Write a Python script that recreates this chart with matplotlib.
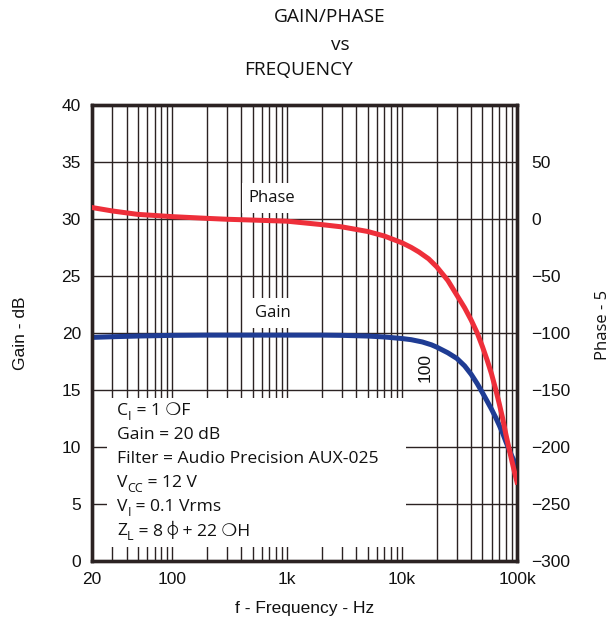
import matplotlib
matplotlib.use("Agg")
import matplotlib.pyplot as plt
from matplotlib.patches import Rectangle
import numpy as np

# ---- data ----
gain_freq = [20, 30, 50, 100, 200, 300, 500, 1000, 2000, 3000, 5000, 7000, 10000,
             12000, 15000, 18000, 20000, 25000, 30000, 35000, 40000, 45000, 50000,
             55000, 60000, 65000, 70000, 75000, 80000, 85000, 90000, 95000, 100000]
gain_db = [19.6, 19.66, 19.72, 19.78, 19.8, 19.8, 19.8, 19.8, 19.8, 19.78, 19.72, 19.64, 19.5,
           19.4, 19.2, 18.95, 18.75, 18.25, 17.75, 17.1, 16.35, 15.55, 14.75,
           14.0, 13.3, 12.6, 11.9, 11.2, 10.45, 9.8, 9.2, 8.7, 8.2]
phase_freq = [20, 30, 50, 100, 200, 300, 500, 1000, 2000, 3000, 5000, 7000, 10000,
              12000, 14000, 17000, 20000, 25000, 30000, 35000, 40000, 45000, 50000,
              55000, 60000, 65000, 70000, 75000, 80000, 85000, 90000, 95000, 100000]
phase_deg = [10, 7, 4, 2, 0.5, -0.3, -1, -2, -5, -7, -11, -15, -21,
             -25, -29, -35, -42, -54, -67, -78, -89, -100, -112,
             -124, -136, -149, -162, -175, -189, -201, -212, -222, -231]

x_ticks = [20, 100, 1000, 10000, 100000]
x_ticklabels = ["20", "100", "1k", "10k", "100k"]
gain_ticks = [0, 5, 10, 15, 20, 25, 30, 35, 40]
phase_ticks = [50, 0, -50, -100, -150, -200, -250, -300]
# each legend line: list of (text, is_subscript)
legend_lines = [[("C", False), ("I", True), (" = 1 ❍F", False)],
                [("Gain = 20 dB", False)],
                [("Filter = Audio Precision AUX-025", False)],
                [("V", False), ("CC", True), (" = 12 V", False)],
                [("V", False), ("I", True), (" = 0.1 Vrms", False)],
                [("Z", False), ("L", True), (" = 8 ⌽ + 22 ❍H", False)]]

W, H = 611, 624
fig = plt.figure(figsize=(W / 100, H / 100), dpi=100)
ax = fig.add_axes([92 / W, 1 - 560.7 / H, 425 / W, 455.7 / H])
ax2 = ax.twinx()

dark = '#2b2222'
txtc = '#111111'
tick_font = 'Liberation Sans'
ui_font = ['Open Sans', 'DejaVu Sans', 'DejaVu Sans Mono', 'Noto Sans CJK JP']

ax.set_xscale('log')
ax.set_xlim(20, 100000)
ax.set_ylim(0, 40)
ax2.set_ylim(-300, 100)

# grid
for dec in [10, 100, 1000, 10000]:
    for m in range(1, 10):
        f = dec * m
        if 20 < f < 100000:
            ax.axvline(f, color=dark, lw=1.0, zorder=1)
for g in gain_ticks[1:-1]:
    ax.axhline(g, color=dark, lw=1.0, zorder=1)

ax.set_xticks(x_ticks)
ax.set_xticklabels(x_ticklabels)
ax.xaxis.set_minor_locator(matplotlib.ticker.NullLocator())
ax.set_yticks(gain_ticks)
ax2.set_yticks(phase_ticks)
ax.tick_params(length=0, labelsize=12.5, pad=8)
ax2.tick_params(length=0, labelsize=12.5, pad=10)
for lab in ax.get_xticklabels() + ax.get_yticklabels() + ax2.get_yticklabels():
    lab.set_fontfamily(tick_font)
    lab.set_color(txtc)

for a in (ax, ax2):
    for s in a.spines.values():
        s.set_color(dark)
        s.set_linewidth(2.4)

# legend box
ax.add_patch(Rectangle((0.035, 0.030), 0.704, 0.327, transform=ax.transAxes,
                       facecolor='white', edgecolor='none', zorder=2))
renderer = fig.canvas.get_renderer()
for i, pieces in enumerate(legend_lines):
    x = 117
    y = H - (411 + 24 * i)
    for text, sub in pieces:
        t = fig.text(x / W, (y - (5 if sub else 0)) / H, text, fontsize=9 if sub else 12.6,
                     family=ui_font, va='center', ha='left', color=txtc, zorder=5)
        bb = t.get_window_extent(renderer)
        x = bb.x1

# curves
ax.plot(gain_freq, gain_db, color='#1f3c94', lw=3.6, zorder=4)
ax2.plot(phase_freq, phase_deg, color='#ee2f3a', lw=3.6, zorder=4)

# curve labels
ax.text(272, H - 198, "Phase", transform=None, fontsize=12, family=ui_font, ha='center',
        va='center', zorder=3, color=txtc,
        bbox=dict(facecolor='white', edgecolor='none', pad=5))
ax.text(273, H - 313, "Gain", transform=None, fontsize=12, family=ui_font, ha='center',
        va='center', zorder=3, color=txtc,
        bbox=dict(facecolor='white', edgecolor='none', pad=5))
ax.text(425, H - 367, "100", transform=None, fontsize=12.5, family=tick_font, ha='center',
        va='center', rotation=90, zorder=3, color=txtc)

# axis labels
ax.set_xlabel("f - Frequency - Hz", fontsize=12.5, family=tick_font, labelpad=10, color=txtc)
ax.set_ylabel("Gain - dB", fontsize=12.5, family=tick_font, labelpad=24, color=txtc)
fig.text(603 / W, 1 - 325 / H, "Phase - 5", rotation=90, fontsize=12, family=ui_font,
         ha='center', va='center', color=txtc)

# title
fig.text(330 / W, 1 - 17 / H, "GAIN/PHASE", fontsize=13.8, family=ui_font, ha='center', va='center', color=txtc)
fig.text(340 / W, 1 - 45 / H, "vs", fontsize=13.8, family=ui_font, ha='center', va='center', color=txtc)
fig.text(298 / W, 1 - 70 / H, "FREQUENCY", fontsize=13.8, family=ui_font, ha='center', va='center', color=txtc)

fig.savefig("out.png", dpi=100)
